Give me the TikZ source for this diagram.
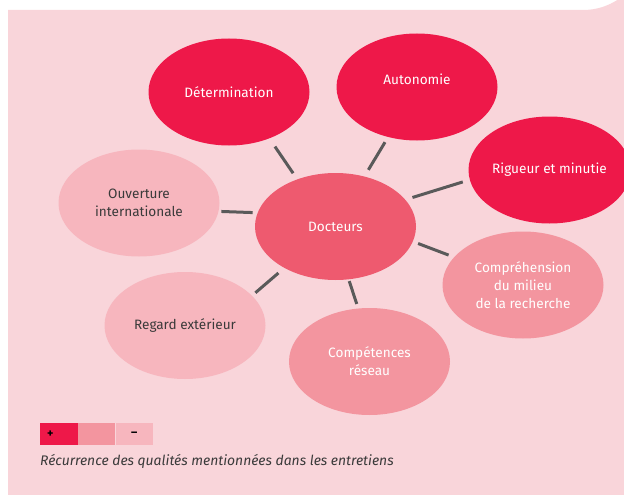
\documentclass[tikz,border=0pt]{standalone}
\usepackage{fontspec}
\setmainfont{Fira Sans}
\usetikzlibrary{shapes.geometric}
\definecolor{bgpink}{HTML}{F9D5DA}
\definecolor{darkred}{HTML}{EE1849}
\definecolor{docred}{HTML}{EE5A6F}
\definecolor{midpink}{HTML}{F3959F}
\definecolor{lightpink}{HTML}{F7B6BE}
\definecolor{linegray}{HTML}{5A5A5A}
\definecolor{txtgray}{HTML}{3A3A3A}
\tikzset{
  bubfont/.style={font=\fontsize{13.6}{18}\selectfont},
  bubble/.style={ellipse, minimum width=161pt, minimum height=107pt, inner sep=0pt,
    align=center, bubfont},
  strong/.style={bubble, fill=darkred, text=white},
  central/.style={bubble, fill=docred, text=white},
  medium/.style={bubble, fill=midpink, text=white},
  weak/.style={bubble, fill=lightpink, text=txtgray},
  conn/.style={draw=linegray, line width=3pt},
  legbox/.style={minimum width=37.33pt, minimum height=22pt, inner sep=0pt, anchor=north west,
    text=black, font=\fontsize{12}{12}\selectfont\bfseries},
}
\begin{document}
\begin{tikzpicture}[x=1pt, y=-1pt]
\useasboundingbox (0,0) rectangle (624,495);
\clip (0,0) rectangle (624,495);
\fill[bgpink] (8,495) -- (8,10) -- (583,10) arc[start angle=90, end angle=0, radius=63.5] -- (646.5,495) -- cycle;

\node[strong]  (det) at (229,92) {};
\node[bubfont, text=white] (dett) at (229,92) {Détermination};
\node[strong]  (aut) at (417,87) {};
\node[bubfont, text=white] (autt) at (417,79) {Autonomie};
\node[strong]  (rig) at (549.5,170) {Rigueur et minutie};
\node[weak]    (ouv) at (139,203) {Ouverture\\internationale};
\node[central] (doc) at (335.5,226.5) {Docteurs};
\node[medium]  (com) at (523,285) {Compréhension\\du milieu\\de la recherche};
\node[weak]    (reg) at (185,325.5) {Regard extérieur};
\node[medium]  (cpt) at (369.5,361.5) {Compétences\\réseau};

\draw[conn, shorten <=7.3pt, shorten >=9.8pt] (doc.129.6) -- (det.-49.6);
\draw[conn, shorten <=7.6pt, shorten >=5.9pt] (doc.60.1) -- (aut.-120.2);
\draw[conn, shorten <=7.4pt, shorten >=7.2pt] (doc.21.1) -- (rig.187.9);
\draw[conn, shorten <=4.8pt, shorten >=2.6pt] (doc.170) -- (ouv.-6.3);
\draw[conn, shorten <=5.5pt, shorten >=5.8pt] (doc.-11.3) -- (com.158.9);
\draw[conn, shorten <=7.7pt, shorten >=4.4pt] (doc.219.5) -- (reg.24.9);
\draw[conn, shorten <=1.7pt, shorten >=4.6pt] (doc.-76.1) -- (cpt.102.3);

\node[legbox, fill=darkred, text width=23.33pt, align=left, inner xsep=7pt] (l1) at (40,423) {+};
\node[legbox, fill=midpink] (l2) at (l1.north east) {};
\node[legbox, fill=lightpink] (l3) at (l2.north east) {–};
\node[anchor=west, inner sep=0pt, text=txtgray, font=\fontsize{13.9}{14}\selectfont\itshape] (cap) at (40,461)
  {Récurrence des qualités mentionnées dans les entretiens};
\end{tikzpicture}
\end{document}
